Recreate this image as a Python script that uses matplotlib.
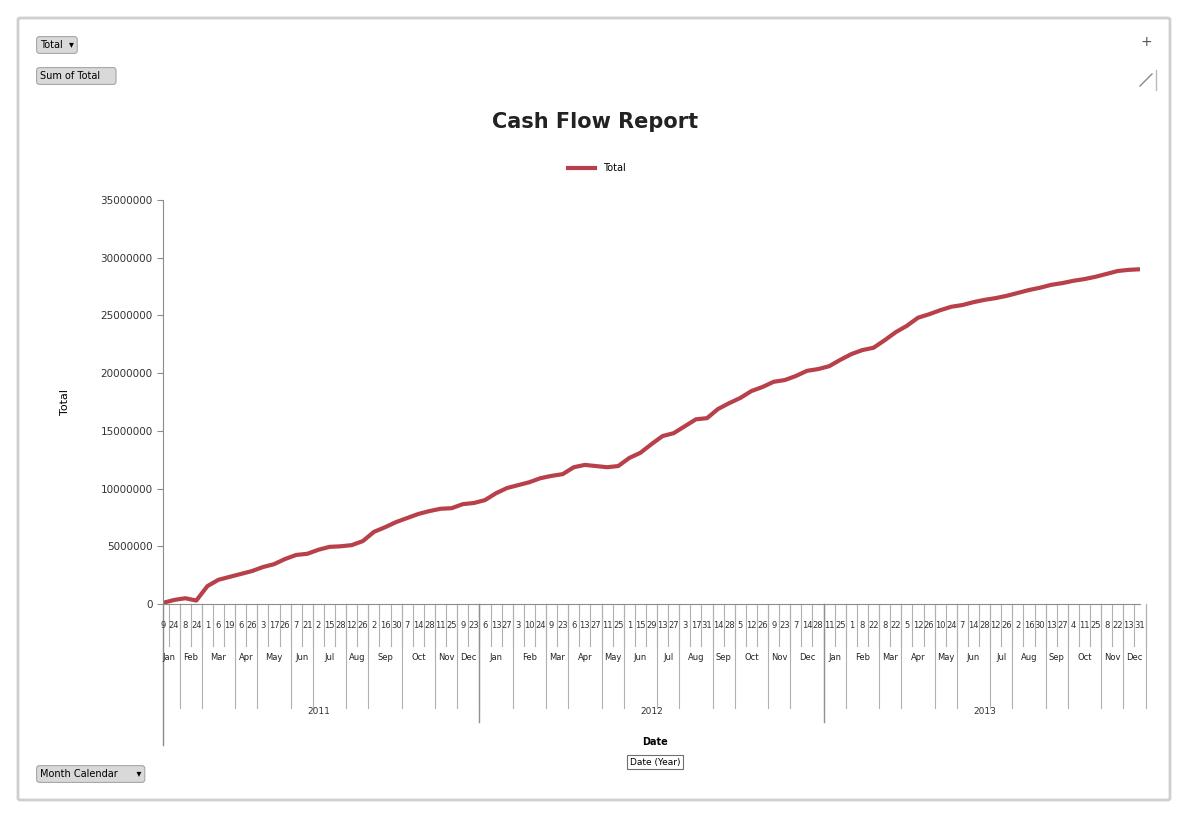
import matplotlib.pyplot as plt
from matplotlib.patches import FancyBboxPatch
from matplotlib.lines import Line2D
from matplotlib.ticker import FuncFormatter

# category levels: year -> month -> day
years = ['2011', '2012', '2013']
month_names = ['Jan', 'Feb', 'Mar', 'Apr', 'May', 'Jun',
               'Jul', 'Aug', 'Sep', 'Oct', 'Nov', 'Dec']
days_2011 = [[9, 24], [8, 24], [1, 6, 19], [6, 26], [3, 17, 26], [7, 21],
             [2, 15, 28], [12, 26], [2, 16, 30], [7, 14, 28], [11, 25], [9, 23]]
days_2012 = [[6, 13, 27], [3, 10, 24], [9, 23], [6, 13, 27], [11, 25], [1, 15, 29],
             [13, 27], [3, 17, 31], [14, 28], [5, 12, 26], [9, 23], [7, 14, 28]]
days_2013 = [[11, 25], [1, 8, 22], [8, 22], [5, 12, 26], [10, 24], [7, 14, 28],
             [12, 26], [2, 16, 30], [13, 27], [4, 11, 25], [8, 22], [13, 31]]

# running cash total
totals = [100000, 350000, 500000, 300000, 1550000, 2100000, 2350000, 2600000,
          2850000, 3200000, 3450000, 3900000, 4250000, 4350000, 4700000, 4950000,
          5000000, 5100000, 5450000, 6250000, 6650000, 7100000, 7450000, 7800000,
          8050000, 8250000, 8300000, 8650000, 8750000,
          9000000, 9600000, 10050000, 10300000, 10550000, 10900000, 11100000,
          11250000, 11850000, 12050000, 11950000, 11850000, 11950000, 12650000,
          13100000, 13850000, 14550000, 14800000, 15400000, 16000000, 16100000,
          16900000, 17400000, 17850000, 18450000, 18800000, 19250000, 19400000,
          19750000, 20200000, 20350000,
          20600000, 21150000, 21650000, 22000000, 22200000, 22850000, 23550000,
          24100000, 24800000, 25100000, 25450000, 25750000, 25900000, 26150000,
          26350000, 26500000, 26700000, 26950000, 27200000, 27400000, 27650000,
          27800000, 28000000, 28150000, 28350000, 28600000, 28850000, 28950000,
          29000000]

line_color = '#B8404A'
axis_color = '#8c8c8c'

fig = plt.figure(figsize=(11.97, 8.14), dpi=100)
fig.patch.set_facecolor('white')

# chart area border
fig.patches.append(FancyBboxPatch((18 / 1197, 1 - 800 / 814), 1152 / 1197, 782 / 814,
                                  boxstyle='round,pad=0,rounding_size=0.002',
                                  transform=fig.transFigure, fill=False,
                                  edgecolor='#cfcfcf', linewidth=2))

ax = fig.add_axes([163 / 1197, 1 - 604 / 814, 977 / 1197, 404 / 814])
x = list(range(len(totals)))
ax.plot(x, totals, color=line_color, linewidth=3, label='Total', solid_joinstyle='round')

ax.set_xlim(0, len(totals) - 1)
ax.set_ylim(0, 35000000)
ax.set_yticks(range(0, 35000001, 5000000))
ax.yaxis.set_major_formatter(FuncFormatter(lambda v, p: '%d' % v))
ax.tick_params(axis='y', labelsize=7.5, colors='#333333', length=4, color=axis_color)
for s in ['top', 'right']:
    ax.spines[s].set_visible(False)
for s in ['left', 'bottom']:
    ax.spines[s].set_color(axis_color)
ax.set_xticks([])
ax.set_ylabel('Total', fontsize=8, labelpad=22)

# multi level category labels
trans = ax.get_xaxis_transform()
axh = 404.0
def ay(py):
    return (604 - py) / axh

i = 0
year_starts = [0]
for yname, ydays in zip(years, [days_2011, days_2012, days_2013]):
    for m, mdays in enumerate(ydays):
        m_start = i
        for d in mdays:
            ax.text(i, ay(626), str(d), transform=trans, ha='center', va='center',
                    fontsize=6, color='#333333', clip_on=False)
            ax.plot([i + 0.5, i + 0.5], [0, ay(646)], transform=trans,
                    color='#b0b0b0', lw=0.8, clip_on=False)
            i += 1
        ax.text((m_start + i - 1) / 2, ay(657), month_names[m], transform=trans,
                ha='center', va='center', fontsize=6, color='#222222', clip_on=False)
        ax.plot([i - 0.5, i - 0.5], [0, ay(708)], transform=trans,
                color='#b0b0b0', lw=0.8, clip_on=False)
    year_starts.append(i)

for k, yname in enumerate(years):
    s, e = year_starts[k], year_starts[k + 1] - 1
    ax.text((s + e) / 2, ay(712), yname, transform=trans, ha='center', va='center',
            fontsize=6.5, color='#333333', clip_on=False)
    if k > 0:
        ax.plot([s - 0.5, s - 0.5], [0, ay(722)], transform=trans,
                color='#909090', lw=1, clip_on=False)
ax.plot([0, 0], [0, ay(745)], transform=trans, color=axis_color, lw=1, clip_on=False)

fig.text(595 / 1197, 1 - 122 / 814, 'Cash Flow Report', ha='center', va='center',
         fontsize=15, fontweight='bold', color='#222222')
fig.legend(loc='center', bbox_to_anchor=(597 / 1197, 1 - 168 / 814), frameon=False,
           fontsize=7, handlelength=2.8)

btn = dict(boxstyle='round,pad=0.35,rounding_size=0.3', facecolor='#d9d9d9',
           edgecolor='#a6a6a6', linewidth=0.8)
fig.text(40 / 1197, 1 - 45 / 814, 'Total  \u25be', fontsize=7, va='center', bbox=btn)
fig.text(40 / 1197, 1 - 76 / 814, 'Sum of Total    ', fontsize=7, va='center', bbox=btn)
fig.text(40 / 1197, 1 - 774 / 814, 'Month Calendar      \u25be', fontsize=7,
         va='center', bbox=btn)
fig.text(655 / 1197, 1 - 742 / 814, 'Date', fontsize=7, fontweight='bold',
         ha='center', va='center')
fig.text(655 / 1197, 1 - 762 / 814, 'Date (Year)', fontsize=6.5, ha='center', va='center',
         bbox=dict(boxstyle='square,pad=0.3', facecolor='white', edgecolor='#707070',
                   linewidth=0.8))

# top-right chart icons
fig.text(1146 / 1197, 1 - 42 / 814, '+', fontsize=10, ha='center', va='center',
         color='#555555')
fig.lines.append(Line2D([1140 / 1197, 1152 / 1197], [1 - 86 / 814, 1 - 74 / 814],
                        transform=fig.transFigure, color='#888888', lw=1))
fig.lines.append(Line2D([1156 / 1197, 1156 / 1197], [1 - 90 / 814, 1 - 70 / 814],
                        transform=fig.transFigure, color='#bbbbbb', lw=1))

fig.savefig('out.png', dpi=100)
